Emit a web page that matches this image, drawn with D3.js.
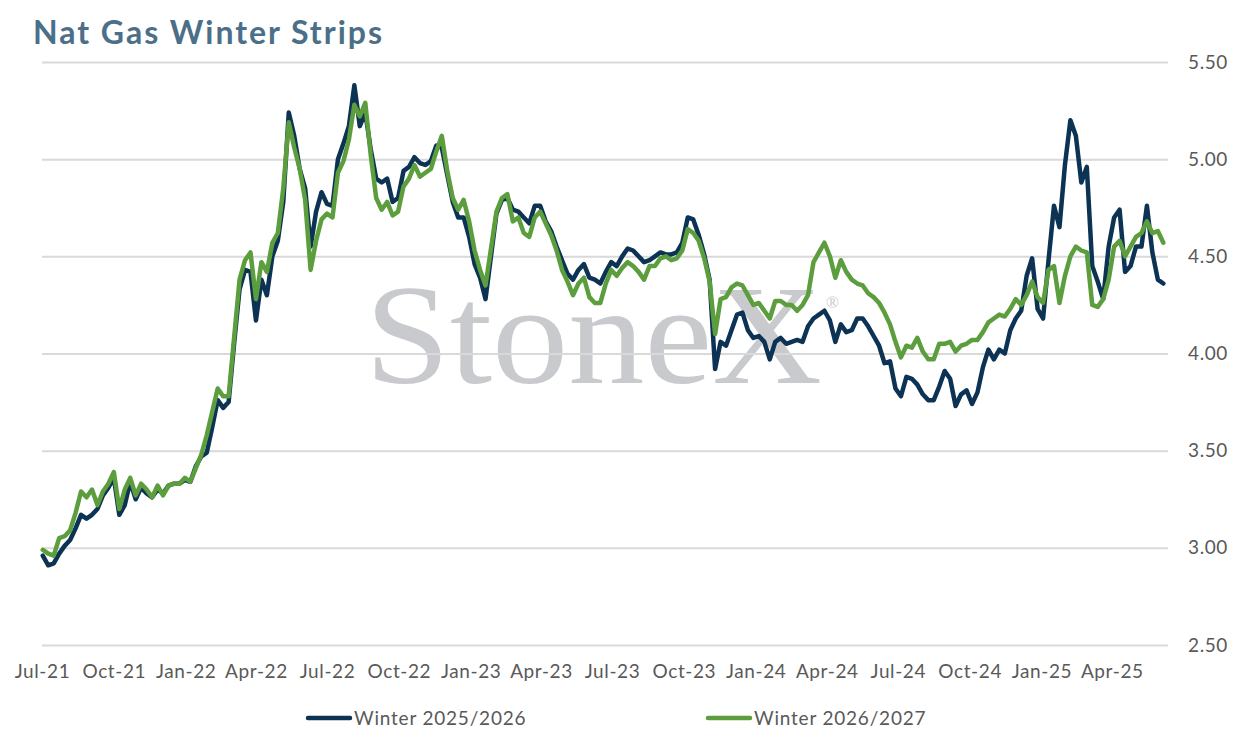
<!DOCTYPE html>
<html lang="en">
<head>
<meta charset="UTF-8">
<title>Nat Gas Winter Strips</title>
<style>
  body { margin: 0; background: #fff; }
  svg text { font-family: Lato, "Open Sans", sans-serif; }
</style>
</head>
<body>
<script src="https://cdn.jsdelivr.net/npm/d3@7/dist/d3.min.js"></script>
<script>
// weekly closes, first one on this date
var startDate = "2021-07-02";

var winter2526 = [
  2.96, 2.91, 2.92, 2.97, 3.01, 3.04, 3.10, 3.17, 3.15, 3.17,
  3.20, 3.27, 3.31, 3.36, 3.17, 3.22, 3.34, 3.25, 3.31, 3.28,
  3.26, 3.30, 3.28, 3.32, 3.33, 3.33, 3.35, 3.34, 3.42, 3.47,
  3.49, 3.62, 3.76, 3.72, 3.75, 4.05, 4.33, 4.43, 4.42, 4.17,
  4.38, 4.30, 4.50, 4.58, 4.78, 5.24, 5.12, 4.95, 4.85, 4.55,
  4.73, 4.83, 4.77, 4.76, 5.00, 5.08, 5.17, 5.38, 5.17, 5.24,
  5.05, 4.90, 4.88, 4.90, 4.78, 4.80, 4.94, 4.96, 5.01, 4.98,
  4.97, 4.99, 5.07, 5.06, 4.92, 4.78, 4.70, 4.70, 4.60, 4.46,
  4.39, 4.28, 4.50, 4.72, 4.79, 4.80, 4.74, 4.73, 4.70, 4.67,
  4.76, 4.76, 4.68, 4.63, 4.55, 4.48, 4.41, 4.38, 4.43, 4.46,
  4.39, 4.38, 4.36, 4.42, 4.47, 4.45, 4.50, 4.54, 4.53, 4.50,
  4.47, 4.48, 4.50, 4.52, 4.51, 4.51, 4.52, 4.57, 4.70, 4.69,
  4.61, 4.51, 4.38, 3.92, 4.06, 4.04, 4.12, 4.20, 4.21, 4.12,
  4.08, 4.09, 4.06, 3.97, 4.06, 4.08, 4.05, 4.06, 4.07, 4.06,
  4.14, 4.18, 4.20, 4.22, 4.17, 4.06, 4.15, 4.11, 4.12, 4.18,
  4.18, 4.14, 4.09, 4.04, 3.95, 3.96, 3.82, 3.78, 3.88, 3.87,
  3.84, 3.79, 3.76, 3.76, 3.83, 3.91, 3.87, 3.73, 3.79, 3.81,
  3.74, 3.80, 3.93, 4.02, 3.97, 4.02, 4.00, 4.12, 4.18, 4.22,
  4.40, 4.49, 4.23, 4.18, 4.48, 4.76, 4.65, 4.97, 5.20, 5.12,
  4.88, 4.96, 4.45, 4.37, 4.28, 4.55, 4.70, 4.74, 4.42, 4.45,
  4.55, 4.55, 4.76, 4.52, 4.38, 4.36
];

var winter2627 = [
  2.99, 2.97, 2.96, 3.05, 3.06, 3.09, 3.18, 3.29, 3.26, 3.30,
  3.22, 3.29, 3.33, 3.39, 3.20, 3.30, 3.36, 3.27, 3.33, 3.30,
  3.26, 3.32, 3.27, 3.32, 3.33, 3.33, 3.36, 3.34, 3.41, 3.48,
  3.58, 3.70, 3.82, 3.78, 3.78, 4.08, 4.38, 4.48, 4.52, 4.28,
  4.47, 4.42, 4.57, 4.62, 4.85, 5.19, 5.06, 4.95, 4.79, 4.43,
  4.58, 4.69, 4.72, 4.70, 4.93, 4.99, 5.10, 5.28, 5.22, 5.29,
  5.02, 4.80, 4.74, 4.78, 4.71, 4.73, 4.86, 4.90, 4.97, 4.91,
  4.93, 4.95, 5.04, 5.12, 4.94, 4.80, 4.74, 4.79, 4.68, 4.53,
  4.43, 4.35, 4.54, 4.73, 4.80, 4.82, 4.68, 4.70, 4.62, 4.60,
  4.70, 4.73, 4.67, 4.61, 4.53, 4.43, 4.37, 4.30, 4.36, 4.39,
  4.29, 4.26, 4.26, 4.36, 4.43, 4.40, 4.44, 4.47, 4.45, 4.42,
  4.38, 4.45, 4.45, 4.49, 4.50, 4.48, 4.49, 4.53, 4.64, 4.62,
  4.58, 4.49, 4.37, 4.10, 4.28, 4.29, 4.34, 4.36, 4.35, 4.30,
  4.25, 4.26, 4.22, 4.18, 4.27, 4.27, 4.25, 4.25, 4.22, 4.25,
  4.30, 4.47, 4.52, 4.57, 4.50, 4.39, 4.48, 4.42, 4.38, 4.36,
  4.35, 4.31, 4.29, 4.26, 4.21, 4.15, 4.06, 3.98, 4.04, 4.03,
  4.08, 4.01, 3.97, 3.97, 4.05, 4.05, 4.06, 4.01, 4.04, 4.05,
  4.07, 4.07, 4.11, 4.16, 4.18, 4.20, 4.19, 4.23, 4.28, 4.25,
  4.30, 4.37, 4.29, 4.26, 4.43, 4.45, 4.26, 4.40, 4.50, 4.55,
  4.53, 4.52, 4.25, 4.24, 4.28, 4.38, 4.55, 4.58, 4.50, 4.55,
  4.60, 4.62, 4.68, 4.62, 4.63, 4.57
];

var seriesNames = ["Winter 2025/2026", "Winter 2026/2027"];
var xTickLabels = ["Jul-21", "Oct-21", "Jan-22", "Apr-22", "Jul-22", "Oct-22", "Jan-23", "Apr-23",
                   "Jul-23", "Oct-23", "Jan-24", "Apr-24", "Jul-24", "Oct-24", "Jan-25", "Apr-25"];
var yTicks = [2.5, 3.0, 3.5, 4.0, 4.5, 5.0, 5.5];

var width = 1238,
    height = 738,
    plotLeft = 42,
    plotRight = 1168,
    plotTop = 62,
    plotBottom = 645;

var parseDay = d3.timeParse("%Y-%m-%d"),
    parseTick = d3.timeParse("%b-%y"),
    t0 = parseDay(startDate);

var dates = winter2526.map(function(d, i) { return d3.timeDay.offset(t0, 7 * i); });

var x = d3.scaleTime()
    .domain([parseDay("2021-07-01"), parseDay("2025-06-12")])
    .range([plotLeft, plotRight]);

var y = d3.scaleLinear()
    .domain([2.5, 5.5])
    .range([plotBottom, plotTop]);

var svg = d3.select("body").append("svg")
    .attr("width", width)
    .attr("height", height);

svg.append("text")
    .attr("x", 33)
    .attr("y", 44)
    .attr("textLength", 349)
    .attr("lengthAdjust", "spacing")
    .style("font-size", "32px")
    .style("font-weight", "bold")
    .attr("fill", "#4b6f89")
    .text("Nat Gas Winter Strips");

// watermark
var mark = svg.append("g").attr("fill", "#c9cacd");
mark.append("text")
    .attr("x", 365)
    .attr("y", 383)
    .attr("textLength", 457)
    .attr("lengthAdjust", "spacingAndGlyphs")
    .style("font-family", "'Liberation Serif', 'DejaVu Serif', serif")
    .style("font-size", "142px")
    .text("StoneX");
mark.append("text")
    .attr("x", 826)
    .attr("y", 308)
    .style("font-family", "'Liberation Serif', serif")
    .style("font-size", "17px")
    .text("\u00ae");

// y grid + labels on the right
var yAxis = d3.axisRight(y)
    .tickValues(yTicks)
    .tickSize(plotRight - plotLeft)
    .tickFormat(d3.format(".2f"));

svg.append("g")
    .attr("class", "y-axis")
    .attr("transform", "translate(" + plotLeft + ",0)")
    .call(yAxis)
    .call(function(g) {
        g.select(".domain").remove();
        g.selectAll(".tick line").attr("stroke", "#d9d9d9").attr("stroke-width", 2);
        g.selectAll(".tick text")
            .attr("x", 1228 - plotLeft)
            .attr("text-anchor", "end")
            .attr("fill", "#595959")
            .style("font-size", "19px")
            .style("letter-spacing", "0.6px");
    });

var xAxis = d3.axisBottom(x)
    .tickValues(xTickLabels.map(parseTick))
    .tickSize(0)
    .tickPadding(20)
    .tickFormat(d3.timeFormat("%b-%y"));

svg.append("g")
    .attr("class", "x-axis")
    .attr("transform", "translate(0," + plotBottom + ")")
    .call(xAxis)
    .call(function(g) {
        g.select(".domain").remove();
        g.selectAll(".tick text")
            .attr("fill", "#595959")
            .style("font-size", "19px")
            .style("letter-spacing", "0.6px");
    });

var line = d3.line()
    .x(function(d, i) { return x(dates[i]); })
    .y(function(d) { return y(d); });

var colors = ["#0c3254", "#5c9e3d"];

svg.selectAll("path.series")
    .data([winter2526, winter2627])
    .enter()
    .append("path")
    .attr("class", "series")
    .attr("d", function(d) { return line(d); })
    .attr("fill", "none")
    .attr("stroke", function(d, i) { return colors[i]; })
    .attr("stroke-width", 4.5)
    .attr("stroke-linejoin", "round")
    .attr("stroke-linecap", "round");

// legend
var legendX = [308, 708];
var legend = svg.selectAll("g.legend")
    .data(seriesNames)
    .enter()
    .append("g")
    .attr("class", "legend")
    .attr("transform", function(d, i) { return "translate(" + legendX[i] + ",718)"; });

legend.append("line")
    .attr("x1", 0).attr("x2", 42)
    .attr("stroke", function(d, i) { return colors[i]; })
    .attr("stroke-width", 4.5)
    .attr("stroke-linecap", "round");

legend.append("text")
    .attr("x", 46)
    .attr("dy", "0.35em")
    .attr("fill", "#595959")
    .style("font-size", "19px")
    .style("letter-spacing", "0.8px")
    .text(function(d) { return d; });
</script>
</body>
</html>
